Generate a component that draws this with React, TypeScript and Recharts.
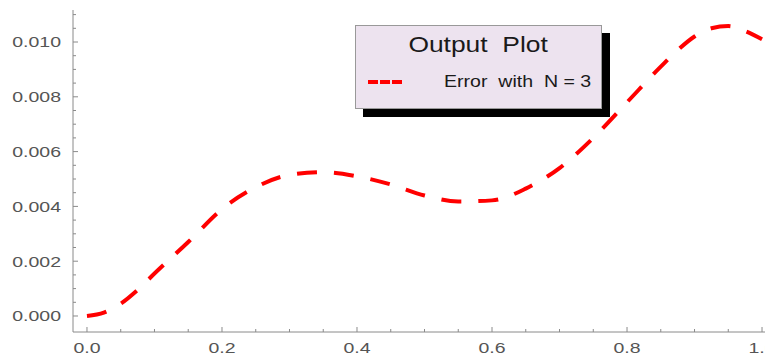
import { LineChart, Line, XAxis, YAxis, Legend } from "recharts";

// sampled from the plotted error curve (N = 3)
const xValues = [0, 0.025, 0.05, 0.075, 0.1, 0.15, 0.2, 0.25, 0.3, 0.35, 0.4, 0.45, 0.5, 0.55, 0.6, 0.65, 0.7, 0.75, 0.8, 0.85, 0.875, 0.9, 0.925, 0.95, 0.975, 1.0];
const errorValues = [0, 0.00012, 0.00045, 0.00095, 0.00155, 0.0027, 0.0039, 0.0047, 0.00515, 0.00525, 0.0051, 0.0048, 0.0044, 0.00418, 0.00422, 0.00465, 0.0054, 0.0065, 0.0078, 0.0091, 0.0097, 0.0102, 0.0105, 0.01058, 0.0104, 0.0101];

const xTicks = [0, 0.05, 0.1, 0.15, 0.2, 0.25, 0.3, 0.35, 0.4, 0.45, 0.5, 0.55, 0.6, 0.65, 0.7, 0.75, 0.8, 0.85, 0.9, 0.95, 1.0];
const xMajor = [0, 0.2, 0.4, 0.6, 0.8, 1.0];
const yTicks = [0, 0.0005, 0.001, 0.0015, 0.002, 0.0025, 0.003, 0.0035, 0.004, 0.0045, 0.005, 0.0055, 0.006, 0.0065, 0.007, 0.0075, 0.008, 0.0085, 0.009, 0.0095, 0.01, 0.0105, 0.011];
const yMajor = [0, 0.002, 0.004, 0.006, 0.008, 0.01];

const legendTitle = "Output  Plot";
const seriesName = "Error  with  N = 3";

const data = xValues.map((x, i) => ({ x, error: errorValues[i] }));

const FONT = "'Liberation Sans', Arial, Helvetica, sans-serif";
const FRAME = "#8a8a8a";
const LABEL = "#555";

const isIn = (list: number[], v: number) => list.some((m) => Math.abs(m - v) < 1e-9);

function BottomTick({ x, y, payload }: any) {
  const major = isIn(xMajor, payload.value);
  return (
    <g>
      <line x1={x} x2={x} y1={y} y2={y - (major ? 5 : 3)} stroke={FRAME} />
      {major && (
        <g transform={`translate(${x},${y + 21}) scale(1.3,1)`}>
          <text textAnchor="middle" fontSize={15} fill={LABEL} fontFamily={FONT}>
            {payload.value.toFixed(1)}
          </text>
        </g>
      )}
    </g>
  );
}

function TopTick({ x, y, payload }: any) {
  const major = isIn(xMajor, payload.value);
  return <line x1={x} x2={x} y1={y} y2={y + (major ? 5 : 3)} stroke={FRAME} />;
}

function LeftTick({ x, y, payload }: any) {
  const major = isIn(yMajor, payload.value);
  return (
    <g>
      <line x1={x} x2={x + (major ? 5 : 3)} y1={y} y2={y} stroke={FRAME} />
      {major && (
        <g transform={`translate(${x - 12},${y}) scale(1.3,1)`}>
          <text textAnchor="end" dy="0.36em" fontSize={15} fill={LABEL} fontFamily={FONT}>
            {payload.value.toFixed(3)}
          </text>
        </g>
      )}
    </g>
  );
}

function LegendBox() {
  return (
    <div
      style={{
        position: "relative",
        width: 247,
        height: 84,
        boxSizing: "border-box",
        background: "#ede3ef",
        border: "1px solid #999",
        boxShadow: "8px 8px 0 #000",
        fontFamily: FONT,
        color: "#1a1a1a",
      }}
    >
      <div style={{ position: "absolute", left: 0, top: 8, width: "100%", textAlign: "center", lineHeight: "22px", fontSize: 22 }}>
        <span style={{ display: "inline-block", transform: "scaleX(1.2)", whiteSpace: "pre" }}>{legendTitle}</span>
      </div>
      <svg style={{ position: "absolute", left: 12, top: 53 }} width={34} height={6}>
        <line x1={0} x2={34} y1={3} y2={3} stroke="#ff0000" strokeWidth={4} strokeDasharray="10 2" />
      </svg>
      <div style={{ position: "absolute", left: 88, top: 47, lineHeight: "17px", fontSize: 17 }}>
        <span style={{ display: "inline-block", transform: "scaleX(1.15)", transformOrigin: "left", whiteSpace: "pre" }}>{seriesName}</span>
      </div>
    </div>
  );
}

export default function App() {
  return (
    <div style={{ position: "absolute", left: 0, top: 0, width: 765, height: 356, background: "#fff" }}>
      <LineChart width={765} height={356} data={data} margin={{ top: 10, right: 0, bottom: 0, left: 0 }}>
        <XAxis
          dataKey="x"
          type="number"
          domain={[-0.0207, 1.0044]}
          allowDataOverflow
          ticks={xTicks}
          interval={0}
          height={24}
          tickSize={0}
          tickMargin={0}
          tickLine={false}
          axisLine={{ stroke: FRAME }}
          tick={<BottomTick />}
        />
        <XAxis
          xAxisId="top"
          orientation="top"
          dataKey="x"
          type="number"
          domain={[-0.0207, 1.0044]}
          allowDataOverflow
          ticks={xTicks}
          interval={0}
          height={0}
          tickSize={0}
          tickMargin={0}
          tickLine={false}
          axisLine={{ stroke: FRAME }}
          tick={<TopTick />}
        />
        <YAxis
          type="number"
          domain={[-0.000584, 0.011168]}
          allowDataOverflow
          ticks={yTicks}
          interval={0}
          width={73}
          tickSize={0}
          tickMargin={0}
          tickLine={false}
          axisLine={{ stroke: FRAME }}
          tick={<LeftTick />}
        />
        <Legend
          layout="horizontal"
          verticalAlign="middle"
          align="center"
          content={<LegendBox />}
          wrapperStyle={{ position: "absolute", left: 355, top: 25, width: 247, height: 84 }}
        />
        <Line
          type="monotone"
          dataKey="error"
          name="Error with N = 3"
          stroke="#ff0000"
          strokeWidth={4}
          strokeDasharray="20 17"
          dot={false}
          isAnimationActive={false}
        />
      </LineChart>
    </div>
  );
}
